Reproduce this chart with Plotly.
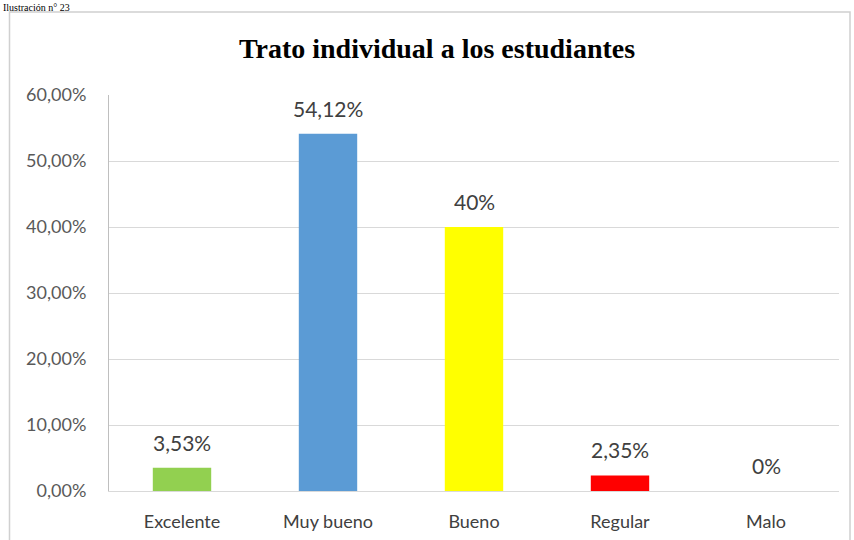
import plotly.graph_objects as go

categories = ["Excelente", "Muy bueno", "Bueno", "Regular", "Malo"]
values = [0.0353, 0.5412, 0.40, 0.0235, 0.0]
labels = ["3,53%", "54,12%", "40%", "2,35%", "0%"]
colors = ["#92D050", "#5B9BD5", "#FFFF00", "#FF0000", "#A5A5A5"]
title = "Trato individual a los estudiantes"
caption = "Ilustración n° 23"

W, H = 854, 540
ml, mr, mt, mb = 109, 15, 95, 49
pw, ph = W - ml - mr, H - mt - mb

def px(x):
    return (x - ml) / pw

def py(y):
    return (H - mb - y) / ph

fig = go.Figure(go.Bar(
    x=categories, y=values, marker_color=colors, marker_line_width=0,
    hoverinfo="x+y",
))

ann = [dict(text=caption, xref="paper", yref="paper", x=px(1), y=py(0),
            xanchor="left", yanchor="top", showarrow=False,
            font=dict(family="Liberation Serif, Times New Roman, serif", size=10, color="black"))]
for c, v, t in zip(categories, values, labels):
    ann.append(dict(x=c, y=v, text=t, xref="x", yref="y", showarrow=False,
                    xanchor="center", yanchor="bottom", yshift=11,
                    font=dict(family="Lato, Open Sans, sans-serif", size=21, color="#404040")))

fig.update_layout(
    width=W, height=H, margin=dict(l=ml, r=mr, t=mt, b=mb, autoexpand=False),
    paper_bgcolor="white", plot_bgcolor="white",
    separators=",.", bargap=0.6, showlegend=False,
    title=dict(text=f"<b>{title}</b>", x=px(437), xref="paper", xanchor="center",
               y=1 - 48 / H, yanchor="middle",
               font=dict(family="Liberation Serif, Times New Roman, serif", size=28, color="black")),
    shapes=[dict(type="rect", xref="paper", yref="paper",
                 x0=px(9.5), x1=px(850), y0=py(560), y1=py(12),
                 line=dict(color="#D0D0D0", width=1.5), fillcolor="rgba(0,0,0,0)", layer="below")],
    annotations=ann,
)
fig.update_yaxes(range=[0, 0.60], dtick=0.10, tickformat=".2%", showgrid=True,
                 gridcolor="#D9D9D9", gridwidth=1, zeroline=False, showline=True,
                 linecolor="#BFBFBF", linewidth=1, ticks="", ticklabelstandoff=18, automargin=False,
                 tickfont=dict(family="Lato, Open Sans, sans-serif", size=18, color="#595959"))
fig.update_xaxes(showline=True, linecolor="#D9D9D9", linewidth=1, ticks="", ticklabelstandoff=14,
                 automargin=False,
                 tickfont=dict(family="Lato, Open Sans, sans-serif", size=18, color="#404040"))

fig.write_html("out.html")
